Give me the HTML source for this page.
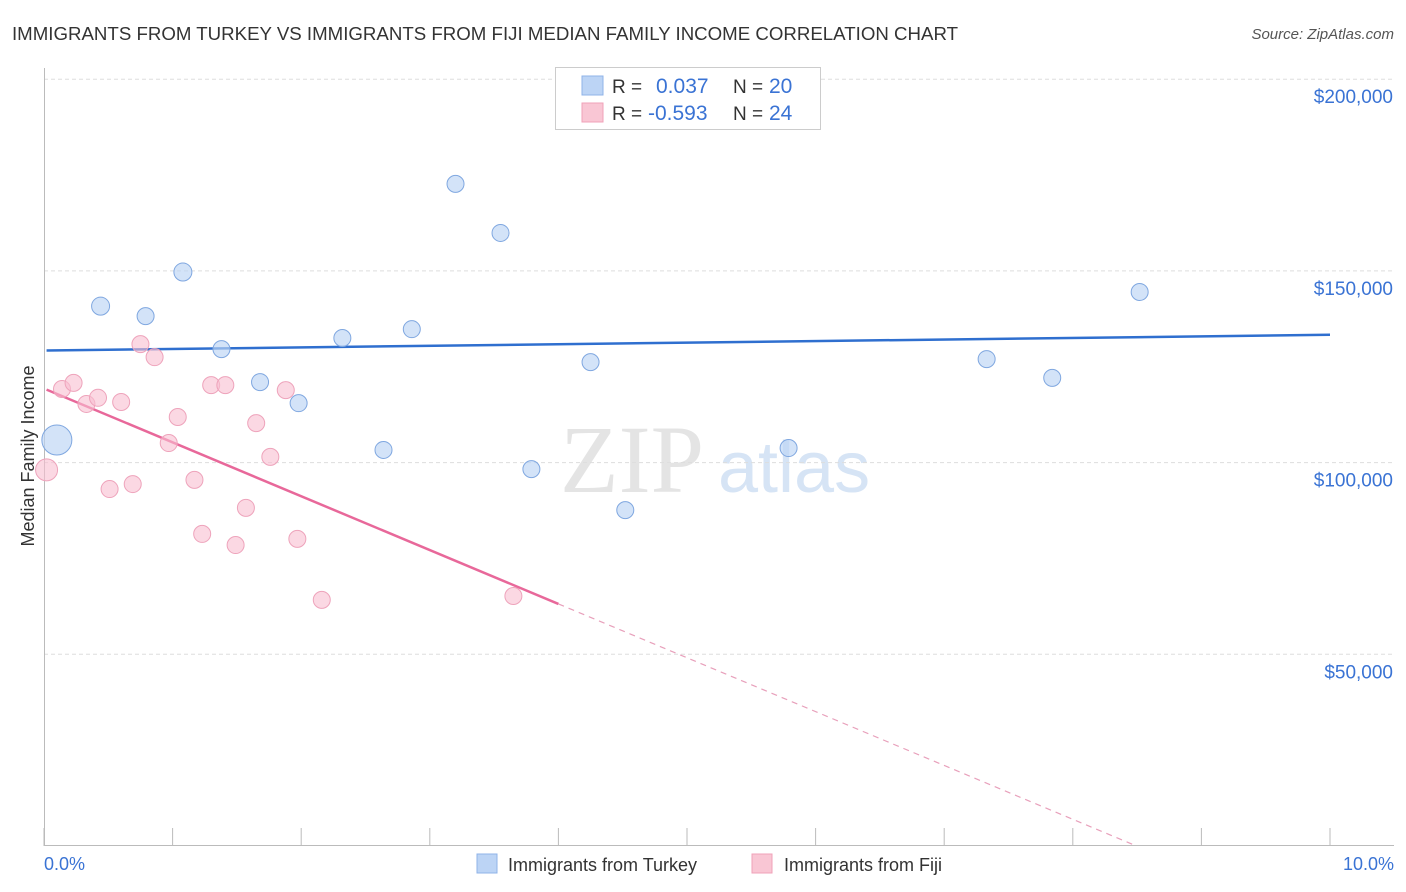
<!DOCTYPE html>
<html><head><meta charset="utf-8"><style>
body{margin:0;background:#fff;font-family:"Liberation Sans",sans-serif}
svg{display:block}
</style></head><body>
<svg id="chart" width="1406" height="892">
<text x="12" y="40" font-size="18" fill="#333" textLength="946" lengthAdjust="spacingAndGlyphs">IMMIGRANTS FROM TURKEY VS IMMIGRANTS FROM FIJI MEDIAN FAMILY INCOME CORRELATION CHART</text>
<text x="1394" y="39" font-size="15" fill="#555" font-style="italic" text-anchor="end">Source: ZipAtlas.com</text>
<text x="560" y="492" font-size="96" fill="#e4e4e4" font-family="Liberation Serif,serif">ZIP</text>
<text x="718" y="492" font-size="72" fill="#d6e4f5">atlas</text>
<g id="grid"></g><g id="axes"></g><g id="lines"></g><g id="points"></g>
<text transform="translate(34,456) rotate(-90)" font-size="18" fill="#333" text-anchor="middle">Median Family Income</text>
<text x="44" y="870" font-size="18" fill="#3a73d4">0.0%</text>
<text x="1394" y="870" font-size="18" fill="#3a73d4" text-anchor="end">10.0%</text>
<g>
<rect x="555.5" y="67.5" width="265" height="62" fill="#fff" stroke="#ccc"/>
<rect x="582" y="76" width="21" height="19" fill="#bcd4f5" stroke="#8fb3e8"/>
<rect x="582" y="103" width="21" height="19" fill="#f9c6d4" stroke="#f0a2b8"/>
<text x="612" y="93" font-size="19" fill="#333">R =</text><text x="656" y="93" font-size="21" fill="#3a73d4">0.037</text>
<text x="733" y="93" font-size="19" fill="#333">N =</text><text x="769" y="93" font-size="21" fill="#3a73d4">20</text>
<text x="612" y="120" font-size="19" fill="#333">R =</text><text x="648" y="120" font-size="21" fill="#3a73d4">-0.593</text>
<text x="733" y="120" font-size="19" fill="#333">N =</text><text x="769" y="120" font-size="21" fill="#3a73d4">24</text>
</g>
<g>
<rect x="477" y="854" width="20" height="19" fill="#bcd4f5" stroke="#8fb3e8"/>
<text x="508" y="871" font-size="18" fill="#333">Immigrants from Turkey</text>
<rect x="752" y="854" width="20" height="19" fill="#f9c6d4" stroke="#f0a2b8"/>
<text x="784" y="871" font-size="18" fill="#333">Immigrants from Fiji</text>
</g>
</svg>
<script>
const yTicks=[50000,100000,150000,200000];
const yTickLabels=["$50,000","$100,000","$150,000","$200,000"];
const xTicks=[0,1,2,3,4,5,6,7,8,9,10];
const turkeyX=[0.1,0.44,0.79,1.08,1.38,1.68,1.98,2.32,2.64,2.86,3.2,3.55,3.79,4.25,4.52,5.1,5.79,7.33,7.84,8.52];
const turkeyY=[105900,140800,138200,149700,129600,121000,115500,132500,103300,134800,172700,159900,98300,126200,87600,199500,103800,127000,122100,144500];
const turkeyR=[15,9,8.5,9,8.5,8.5,8.5,8.5,8.5,8.5,8.5,8.5,8.5,8.5,8.5,8.5,8.5,8.5,8.5,8.5];
const fijiX=[0.02,0.14,0.23,0.33,0.42,0.51,0.6,0.69,0.75,0.86,0.97,1.04,1.17,1.23,1.3,1.41,1.49,1.57,1.65,1.76,1.88,1.97,2.16,3.65];
const fijiY=[98100,119200,120800,115300,116900,93100,115800,94400,130900,127500,105100,111900,95500,81400,120200,120200,78500,88200,110300,101500,118900,80100,64200,65200];
const fijiR=[11,8.5,8.5,8.5,8.5,8.5,8.5,8.5,8.5,8.5,8.5,8.5,8.5,8.5,8.5,8.5,8.5,8.5,8.5,8.5,8.5,8.5,8.5,8.5];
const X=v=>44+v*128.6, Y=v=>846-v/50000*191.7;
const NS="http://www.w3.org/2000/svg";
function mk(tag,attrs,parent){const e=document.createElementNS(NS,tag);for(const k in attrs)e.setAttribute(k,attrs[k]);document.getElementById(parent).appendChild(e);return e;}
yTicks.forEach((t,i)=>{
 const l=mk('line',{x1:44,x2:1394,y1:Y(t),y2:Y(t),stroke:'#ddd','stroke-dasharray':'4,3'},'grid');
 
 
 const tx=mk('text',{x:1393,y:Y(t)+24,'font-size':19,fill:'#3a73d4','text-anchor':'end'},'grid');
 tx.textContent=yTickLabels[i];
 
 
});
const ax=mk('line',{x1:44,x2:1394,y1:845.5,y2:845.5,stroke:'#bbb'},'axes');


const ay=mk('line',{x1:44.5,x2:44.5,y1:68,y2:846,stroke:'#bbb'},'axes');


xTicks.forEach(t=>{
 const l=mk('line',{x1:X(t),x2:X(t),y1:828,y2:846,stroke:'#bbb'},'axes');
 
 
});
function fit(xs,ys){const n=xs.length;let mx=0,my=0;xs.forEach((x,i)=>{mx+=x;my+=ys[i]});mx/=n;my/=n;let sxy=0,sxx=0;xs.forEach((x,i)=>{sxy+=(x-mx)*(ys[i]-my);sxx+=(x-mx)**2});const b=sxy/sxx;return [my-b*mx,b];}
const [ta,tb]=fit(turkeyX,turkeyY);
const tl=mk('line',{x1:X(0.02),y1:Y(ta+tb*0.02),x2:X(10),y2:Y(ta+tb*10),stroke:'#2f6fcf','stroke-width':2.5},'lines');


const [fa,fb]=fit(fijiX,fijiY);
const xEnd=4.0, xZero=Math.min(10,-fa/fb);
const fl=mk('line',{x1:X(0.02),y1:Y(fa+fb*0.02),x2:X(xEnd),y2:Y(fa+fb*xEnd),stroke:'#e8689a','stroke-width':2.5},'lines');


const fd=mk('line',{x1:X(xEnd),y1:Y(fa+fb*xEnd),x2:X(xZero),y2:Y(fa+fb*xZero),stroke:'#e8a0bb','stroke-width':1.2,'stroke-dasharray':'6,5'},'lines');


fijiX.forEach((x,i)=>{
 const c=mk('circle',{cx:X(x),cy:Y(fijiY[i]),r:fijiR[i],fill:'rgba(248,190,208,0.6)',stroke:'#eea3bb','stroke-width':1},'points');
 
 
});
turkeyX.forEach((x,i)=>{
 const c=mk('circle',{cx:X(x),cy:Y(turkeyY[i]),r:turkeyR[i],fill:'rgba(188,212,245,0.65)',stroke:'#7fa7e0','stroke-width':1},'points');
 
 
});
</script>
</body></html>
